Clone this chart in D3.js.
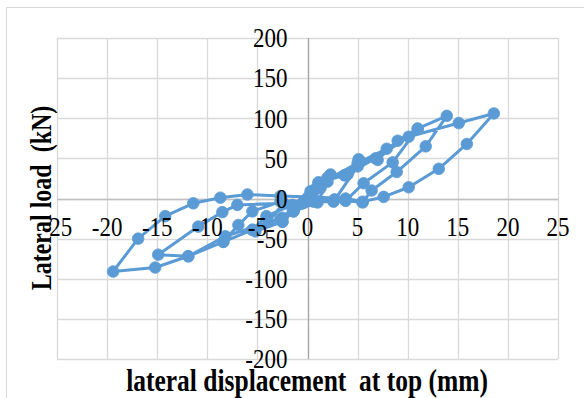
<!DOCTYPE html>
<html>
<head>
<meta charset="utf-8">
<script src="https://cdn.jsdelivr.net/npm/d3@7"></script>
<style>
  html, body { margin: 0; padding: 0; background: #fff; }
  svg { display: block; }
  text { font-family: "Liberation Serif", "Times New Roman", serif; fill: #000; white-space: pre; }
</style>
</head>
<body>
<svg id="chart" width="584" height="398"></svg>
<script>
// Cyclic load test: lateral displacement (mm) and lateral load (kN), in loading order
const displacement = [
  0, 0.5, 1.3, 2.0, 1.0, -1.4, -2.5, -1.5, -0.3,
  0.3, 1.1, 2.3, 3.7, 5.3, 5.0, 2.6, 0.6, -2.4, -3.9, -5.2, -2.5, -1.4, 0.1,
  1.2, 2.0, 4.0, 5.1, 7.0, 9.0, 11.0, 8.5, 5.6, 3.8, -2.7, -5.5, -6.9, -8.4, -5.5, -4.1, -1.5,
  0.8, 1.9, 5.0, 7.9, 11.0, 13.9, 11.8, 8.9, 6.4, 5.5, 2.7, -2.4, -7.0, -8.5, -10.9, -14.9,
  -11.9, -8.2, -2.7, -0.5,
  1.1, 3.7, 6.8, 10.1, 15.1, 18.6, 15.9, 13.1, 10.1, 7.6, 5.5, 3.8, 0.4, -2.7, -6.0, -8.7,
  -11.4, -14.2, -16.9, -19.4, -15.2, -11.9, -8.4, -5.5, -2.5, -1.4, 0
];
const load = [
  0, 5, 13, 21, -5, -16, -24, -12, -3,
  9, 20, 30, 29, 46, 40, -4, -4, -6, -29, -41, -29, -14, 2,
  16, 26, 30, 49, 48, 72, 87, 45, 19, -3, -4, -16, -33, -54, -39, -22, -8,
  12, 23, 44, 62, 87, 103, 65, 33, 10, -5, -1, -6, -8, -17, -35, -70,
  -72, -47, -25, -6,
  20, 29, 50, 77, 94, 106, 68, 37, 14, 2, -4, 0, 2, 3, 5, 1,
  -6, -22, -50, -91, -86, -72, -54, -39, -29, -16, 0
];
const xTicks = [-25, -20, -15, -10, -5, 0, 5, 10, 15, 20, 25];
const yTicks = [-200, -150, -100, -50, 0, 50, 100, 150, 200];
const xTitle = "lateral displacement  at top (mm)";
const yTitle = "Lateral load  (kN)";

const svg = d3.select("#chart");
const color = "#5b9bd5";
const stretch = 1.15; // glyphs are drawn slightly tall and narrow

// outer chart frame
svg.append("rect")
  .attr("x", 6.5).attr("y", 7.5).attr("width", 590).attr("height", 400)
  .attr("fill", "none").attr("stroke", "#d9d9d9").attr("stroke-width", 1);

const x = d3.scaleLinear().domain([-25, 25]).range([57, 558]);
const y = d3.scaleLinear().domain([-200, 200]).range([359, 38]);

// gridlines
const grid = svg.append("g");
grid.selectAll(".gx").data(xTicks).join("line")
  .attr("x1", d => Math.round(x(d)) + 0.5).attr("x2", d => Math.round(x(d)) + 0.5)
  .attr("y1", y(200)).attr("y2", y(-200))
  .attr("stroke", "#d9d9d9").attr("stroke-width", 1.3);
grid.selectAll(".gy").data(yTicks).join("line")
  .attr("y1", d => Math.round(y(d)) + 0.5).attr("y2", d => Math.round(y(d)) + 0.5)
  .attr("x1", x(-25)).attr("x2", x(25))
  .attr("stroke", "#d9d9d9").attr("stroke-width", 1.3);

// axes through the origin
svg.append("line")
  .attr("x1", Math.round(x(0)) + 0.5).attr("x2", Math.round(x(0)) + 0.5)
  .attr("y1", y(200)).attr("y2", y(-200))
  .attr("stroke", "#a6a6a6").attr("stroke-width", 1.3);
svg.append("line")
  .attr("x1", x(-25)).attr("x2", x(25))
  .attr("y1", Math.round(y(0)) + 0.5).attr("y2", Math.round(y(0)) + 0.5)
  .attr("stroke", "#bfbfbf").attr("stroke-width", 1.3);

// data line and markers
const pts = displacement.map((d, i) => [d, load[i]]);
svg.append("path")
  .datum(pts)
  .attr("fill", "none")
  .attr("stroke", color)
  .attr("stroke-width", 3)
  .attr("stroke-linejoin", "round")
  .attr("d", d3.line().x(d => x(d[0])).y(d => y(d[1])));
svg.append("g").selectAll("circle").data(pts).join("circle")
  .attr("cx", d => x(d[0])).attr("cy", d => y(d[1]))
  .attr("r", 5.8).attr("fill", color).attr("stroke", color).attr("stroke-width", 0.8);

// tick labels
svg.append("g").selectAll("text").data(yTicks).join("text")
  .attr("transform", d => `translate(${x(0) - 20},${y(d)}) scale(1,${stretch})`)
  .attr("dy", "0.35em")
  .attr("text-anchor", "end")
  .attr("font-size", 23)
  .text(d => d);
svg.append("g").selectAll("text").data(xTicks).join("text")
  .attr("transform", d => `translate(${x(d)},${y(0) + 28}) scale(1,${stretch})`)
  .attr("dy", "0.35em")
  .attr("text-anchor", "middle")
  .attr("font-size", 23)
  .text(d => d);

// axis titles
svg.append("text")
  .attr("transform", `translate(307,391) scale(1,1.2)`)
  .attr("text-anchor", "middle")
  .attr("font-size", 25.5).attr("font-weight", "bold")
  .text(xTitle);
svg.append("text")
  .attr("transform", "translate(51,198) rotate(-90) scale(1,1.2)")
  .attr("text-anchor", "middle")
  .attr("font-size", 24).attr("font-weight", "bold")
  .text(yTitle);
</script>
</body>
</html>
